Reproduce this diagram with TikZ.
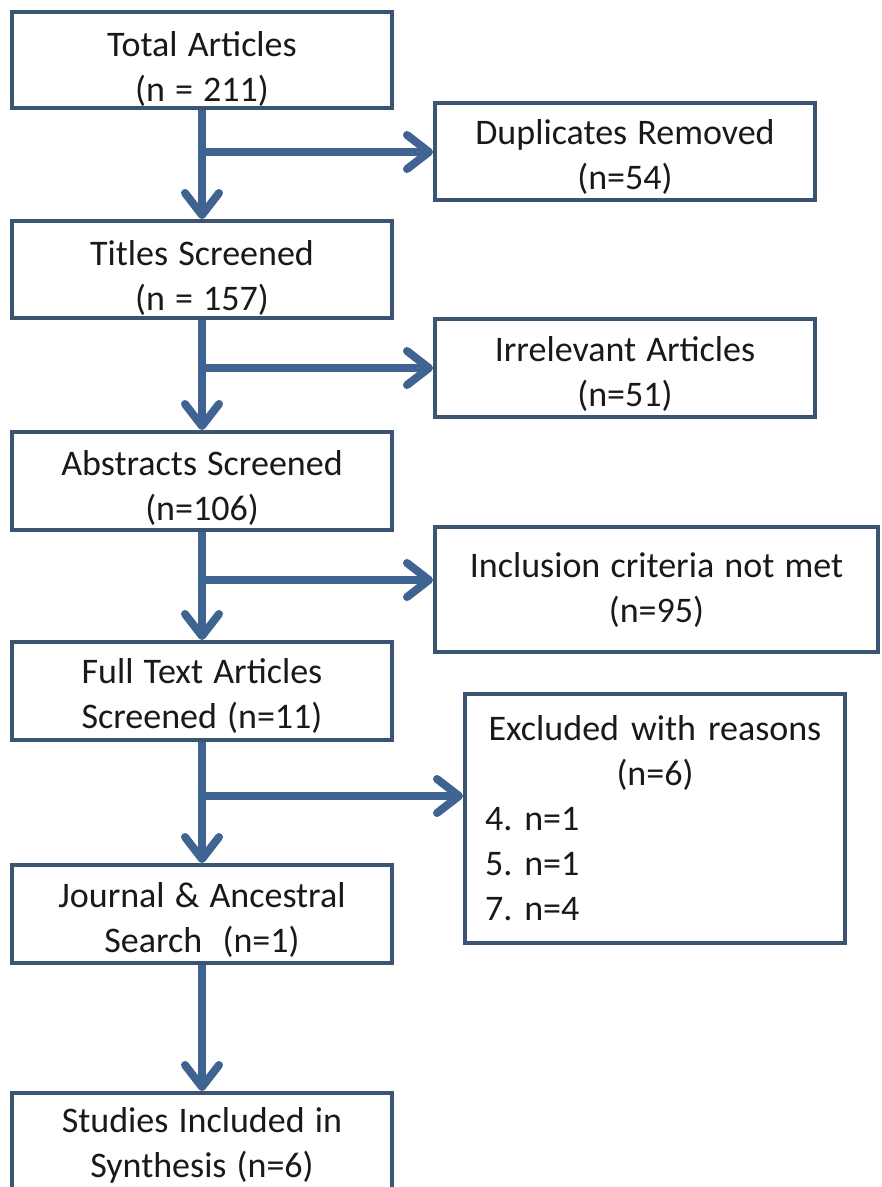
\documentclass[tikz,border=0pt]{standalone}
\usepackage{fontspec}
\setmainfont[WordSpace={1.25,1,1}]{Carlito}
\usetikzlibrary{arrows.meta}
\definecolor{arrowblue}{RGB}{64,100,146}
\definecolor{boxline}{RGB}{58,84,114}
\frenchspacing
% two centred lines, pushed down by #1 pt
\newcommand\twolines[3]{\rule{0pt}{\dimexpr 27pt+#1pt+#1pt\relax}#2\\#3}
\begin{document}
\begin{tikzpicture}[x=1pt,y=-1pt,
  box/.style={draw=boxline, line width=4pt, fill=white, inner sep=0pt, align=center,
    font=\fontsize{36}{45}\selectfont\frenchspacing, text=black!90},
  flow/.style={draw=arrowblue, line width=8pt,
    -{Straight Barb[length=22pt,width=34pt,line width=8pt,round]}}
]
\useasboundingbox[fill=white] (0,0) rectangle (882,1187);
% main column
\node[box, minimum width=380pt, minimum height=96pt] (b1) at (202,60) {\twolines{8}{Total Articles}{(n = 211)}};
\node[box, minimum width=380pt, minimum height=97pt] (b2) at (202,269.5) {\twolines{7}{Titles Screened}{(n = 157)}};
\node[box, minimum width=380pt, minimum height=98pt] (b3) at (202,481) {\twolines{6}{Abstracts Screened}{(n=106)}};
\node[box, minimum width=380pt, minimum height=98pt] (b4) at (202,691) {\twolines{4}{Full Text Articles}{Screened (n=11)}};
\node[box, minimum width=380pt, minimum height=98pt] (b5) at (202,914) {\twolines{5}{Journal \&\ Ancestral}{Search\ \ (n=1)}};
\node[box, minimum width=380pt, minimum height=100pt] (b6) at (202,1143) {\twolines{1}{Studies Included in}{Synthesis (n=6)}};
% side boxes
\node[box, minimum width=380pt, minimum height=97pt] (d1) at (625,151.5) {\twolines{4}{Duplicates Removed}{(n=54)}};
\node[box, minimum width=380pt, minimum height=98pt] (d2) at (625,368) {\twolines{5}{Irrelevant Articles}{(n=51)}};
\node[box, minimum width=443pt, minimum height=125pt] (d3) at (656.5,589.5) {Inclusion criteria not met\\(n=95)};
\node[box, text width=340pt, inner xsep=20pt, minimum height=249pt, align=left] (d4) at (655,818.5)
  {{\centering Excluded with reasons\\(n=6)\par}\raggedright 4. n=1\\5. n=1\\7. n=4};
% junctions
\coordinate (j1) at (202,152);
\coordinate (j2) at (202,368);
\coordinate (j3) at (202,580);
\coordinate (j4) at (202,796);
% vertical flow
\draw[flow] (b1.south) -- (b2.north);
\draw[flow] (b2.south) -- (b3.north);
\draw[flow] (b3.south) -- (b4.north);
\draw[flow] (b4.south) -- (b5.north);
\draw[flow] (b5.south) -- (b6.north);
% side arrows
\draw[flow] (j1) -- (j1 -| d1.west);
\draw[flow] (j2) -- (j2 -| d2.west);
\draw[flow] (j3) -- (j3 -| d3.west);
\draw[flow] (j4) -- (j4 -| d4.west);
\end{tikzpicture}
\end{document}
